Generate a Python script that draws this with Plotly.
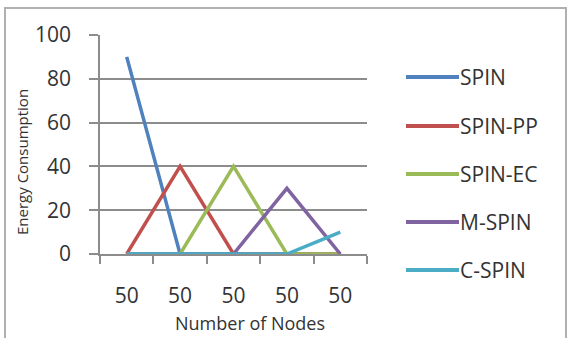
import plotly.graph_objects as go

# Node-count categories (all runs used 50 nodes)
categories = ["50", "50", "50", "50", "50"]

# Energy consumption per protocol
spin = [90, 0, 0, 0, 0]
spin_pp = [0, 40, 0, 0, 0]
spin_ec = [0, 0, 40, 0, 0]
m_spin = [0, 0, 0, 30, 0]
c_spin = [0, 0, 0, 0, 10]

series_names = ["SPIN", "SPIN-PP", "SPIN-EC", "M-SPIN", "C-SPIN"]
series_values = [spin, spin_pp, spin_ec, m_spin, c_spin]
colors = ["#4F81BD", "#C0504D", "#9BBB59", "#8064A2", "#4BACC6"]

y_ticks = [0, 20, 40, 60, 80, 100]

FONT = "Open Sans, Liberation Sans, sans-serif"
TEXT = "#333333"
GRID = "#8c8c8c"

x_pos = list(range(len(categories)))

fig = go.Figure()
for name, vals, col in zip(series_names, series_values, colors):
    fig.add_trace(go.Scatter(
        x=x_pos, y=vals, name=name, mode="lines",
        line=dict(color=col, width=3.5),
        cliponaxis=False, showlegend=False,
    ))

W, H = 571, 338
L, R, T, B = 100, 204, 35, 84
PW, PH = W - L - R, H - T - B


def px_x(x):
    return (x - L) / PW


def px_y(y):
    return (H - B - y) / PH


fig.update_layout(
    width=W, height=H,
    margin=dict(l=L, r=R, t=T, b=B),
    paper_bgcolor="white", plot_bgcolor="white",
    font=dict(family=FONT, size=21, color=TEXT),
    xaxis=dict(
        range=[-0.5, len(categories) - 0.5],
        tickvals=x_pos, ticktext=categories,
        showgrid=False, zeroline=False,
        showline=True, linecolor=GRID, linewidth=1.5,
        ticks="", ticklabelstandoff=22,
        tickfont=dict(size=21, color=TEXT),
        minor=dict(
            tickvals=[i - 0.5 for i in range(len(categories) + 1)],
            ticks="outside", ticklen=8, tickcolor=GRID, tickwidth=1.5,
            showgrid=False,
        ),
    ),
    yaxis=dict(
        range=[0, 100], tickvals=y_ticks,
        showgrid=True, gridcolor=GRID, gridwidth=1.5,
        zeroline=False,
        showline=True, linecolor=GRID, linewidth=1.5,
        ticks="outside", ticklen=9, tickcolor=GRID, tickwidth=1.5,
        ticklabelstandoff=14,
        tickfont=dict(size=21, color=TEXT),
    ),
    showlegend=False,
)

# Axis titles
fig.add_annotation(
    text="Number of Nodes", xref="paper", yref="paper",
    x=px_x(250), y=px_y(323),
    xanchor="center", yanchor="middle", showarrow=False,
    font=dict(size=18, color=TEXT, family=FONT),
)
fig.add_annotation(
    text="Energy Consumption", xref="paper", yref="paper",
    x=px_x(22), y=px_y(162),
    xanchor="center", yanchor="middle", textangle=-90, showarrow=False,
    font=dict(size=15, color=TEXT, family=FONT),
)

# Legend drawn as line samples with labels
legend_y = [77, 126, 174, 222, 270]
for name, col, ly in zip(series_names, colors, legend_y):
    fig.add_shape(
        type="line", xref="paper", yref="paper",
        x0=px_x(406), x1=px_x(459), y0=px_y(ly), y1=px_y(ly),
        line=dict(color=col, width=4),
    )
    fig.add_annotation(
        text=name, xref="paper", yref="paper",
        x=px_x(458), y=px_y(ly),
        xanchor="left", yanchor="middle", showarrow=False,
        font=dict(size=21, color=TEXT, family=FONT),
    )

# Chart border
fig.add_shape(
    type="rect", xref="paper", yref="paper",
    x0=px_x(5), x1=px_x(566), y0=px_y(343), y1=px_y(8),
    line=dict(color="#b0b0b0", width=2), layer="below",
)

fig.write_html("out.html")
